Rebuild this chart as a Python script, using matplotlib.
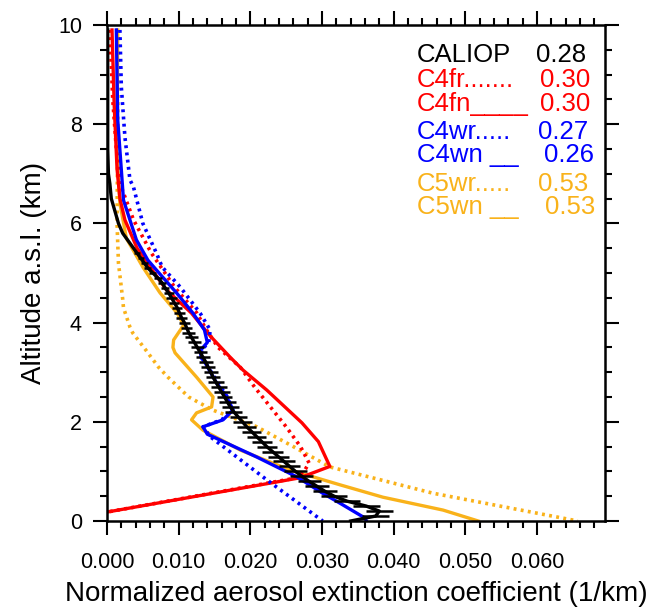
import matplotlib
matplotlib.use("Agg")
import matplotlib.pyplot as plt
from matplotlib.ticker import MultipleLocator, FormatStrFormatter

plt.rcParams['font.family'] = ['Liberation Sans', 'DejaVu Sans']

# CALIOP mean profile (altitude km, extinction 1/km) and its spread
caliop_alt = [0.0, 0.1, 0.2, 0.3, 0.4, 0.5, 0.6, 0.7, 0.8, 0.9,
              1.0, 1.1, 1.2, 1.3, 1.4, 1.5, 1.6, 1.7, 1.8, 1.9,
              2.0, 2.1, 2.2, 2.3, 2.4, 2.5, 2.6, 2.7, 2.8, 2.9,
              3.0, 3.1, 3.2, 3.3, 3.4, 3.5, 3.6, 3.7, 3.8, 3.9,
              4.0, 4.1, 4.2, 4.3, 4.4, 4.5, 4.6, 4.7, 4.8, 4.9,
              5.0, 5.1, 5.2, 5.3, 5.4,
              5.6, 5.8, 6.0, 6.2, 6.5, 6.8, 7.0, 7.5, 8.5, 9.9]
caliop_ext = [0.0340, 0.0375, 0.0380, 0.0362, 0.0335, 0.0317, 0.0304, 0.0293, 0.0282, 0.0272,
              0.0263, 0.0255, 0.0247, 0.0239, 0.0231, 0.0223, 0.0216, 0.0209, 0.0202, 0.0195,
              0.0189, 0.0183, 0.0177, 0.0172, 0.0168, 0.0164, 0.0160, 0.0156, 0.0152, 0.0148,
              0.0145, 0.0141, 0.0138, 0.0134, 0.0130, 0.0126, 0.0122, 0.0118, 0.0114, 0.0111,
              0.0108, 0.0104, 0.0101, 0.0098, 0.0094, 0.0090, 0.0086, 0.0081, 0.0077, 0.0071,
              0.0064, 0.0057, 0.0052, 0.0047, 0.0042,
              0.0032, 0.0022, 0.0016, 0.0012, 0.0006, 0.0004, 0.0002, 0.0001, 0.0001, 0.0001]
caliop_err = [0.0, 0.0019, 0.0019, 0.0019, 0.0018, 0.0018, 0.0017, 0.0017, 0.0016, 0.0016,
              0.0016, 0.0015, 0.0015, 0.0015, 0.0014, 0.0014, 0.0014, 0.0013, 0.0013, 0.0013,
              0.0013, 0.0012, 0.0012, 0.0012, 0.0012, 0.0011, 0.0011, 0.0011, 0.0011, 0.0010,
              0.0010, 0.0010, 0.0010, 0.0010, 0.0009, 0.0009, 0.0009, 0.0009, 0.0009, 0.0008,
              0.0008, 0.0008, 0.0008, 0.0007, 0.0007, 0.0007, 0.0007, 0.0006, 0.0006, 0.0006,
              0.0005, 0.0005, 0.0005, 0.0004, 0.0004]

c4fn_alt = [9.9, 8.4, 7.1, 6.5, 6.07, 5.5, 5.0, 4.66, 4.19, 3.8, 3.7, 3.3, 3.04,
            2.64, 1.98, 1.6, 1.1, 0.87, 0.18]
c4fn_ext = [0.0007, 0.0010, 0.0014, 0.0018, 0.0025, 0.0042, 0.0066, 0.0083, 0.0118, 0.0140,
            0.0146, 0.0172, 0.0190, 0.0223, 0.0272, 0.0295, 0.0311, 0.0269, 0.0]

c4fr_alt = [9.9, 8.5, 7.5, 6.73, 6.07, 5.4, 4.7, 4.2, 3.85, 3.5, 3.1, 2.7, 1.9, 1.5,
            1.17, 1.0, 0.87, 0.18]
c4fr_ext = [0.0004, 0.0008, 0.0013, 0.0020, 0.0037, 0.0062, 0.0095, 0.0125, 0.0139, 0.0155,
            0.0186, 0.0206, 0.0250, 0.0270, 0.0282, 0.0275, 0.0265, 0.0]

c4wn_alt = [9.9, 8.08, 7.08, 6.47, 6.07, 5.67, 5.26, 5.06, 4.6, 4.19, 3.85, 3.6, 3.45,
            3.3, 3.19, 2.78, 2.5, 2.24, 2.04, 1.9, 1.75, 1.29, 0.89, 0.56, 0.36, 0.06, 0.0]
c4wn_ext = [0.0013, 0.0015, 0.0020, 0.0023, 0.0032, 0.0041, 0.0057, 0.0069, 0.0097, 0.0120,
            0.0136, 0.0140, 0.0131, 0.0131, 0.0137, 0.0153, 0.0167, 0.0176, 0.0162, 0.0134,
            0.0140, 0.0209, 0.0265, 0.0301, 0.0325, 0.0360, 0.0362]

c4wr_alt = [9.9, 8.75, 7.74, 6.88, 6.73, 6.0, 5.4, 5.12, 4.72, 4.19, 3.85, 3.6, 3.45,
            3.3, 2.78, 2.5, 2.24, 2.04, 1.9, 1.7, 0.83, 0.0]
c4wr_ext = [0.0018, 0.0020, 0.0025, 0.0032, 0.0037, 0.0050, 0.0069, 0.0077, 0.0102, 0.0130,
            0.0144, 0.0142, 0.0132, 0.0133, 0.0155, 0.0168, 0.0175, 0.0160, 0.0134, 0.0144,
            0.0223, 0.0301]

c5wn_alt = [9.9, 7.42, 6.41, 5.7, 5.12, 4.6, 4.19, 3.95, 3.65, 3.5, 3.39, 2.9, 2.5, 2.3,
            2.18, 2.04, 1.83, 1.43, 1.03, 0.73, 0.48, 0.22, 0.0]
c5wn_ext = [0.0015, 0.0014, 0.0018, 0.0027, 0.0050, 0.0074, 0.0098, 0.0107, 0.0093, 0.0092,
            0.0095, 0.0125, 0.0148, 0.0146, 0.0125, 0.0118, 0.0134, 0.0186, 0.0255, 0.0325,
            0.0385, 0.0469, 0.0518]

c5wr_alt = [9.9, 6.0, 5.2, 4.46, 4.3, 3.91, 3.79, 3.45, 3.1, 2.9, 2.5, 2.24, 1.9, 1.5,
            1.09, 0.56, 0.0]
c5wr_ext = [0.0016, 0.0014, 0.0016, 0.0022, 0.0023, 0.0032, 0.0036, 0.0054, 0.0072, 0.0085,
            0.0114, 0.0147, 0.0209, 0.0260, 0.0311, 0.0455, 0.0657]

legend_names = ['CALIOP', 'C4fr.......', 'C4fn____', 'C4wr.....', 'C4wn __', 'C5wr.....', 'C5wn __']
legend_vals = ['0.28', '0.30', '0.30', '0.27', '0.26', '0.53', '0.53']
legend_colors = ['black', 'red', 'red', 'blue', 'blue', '#f9b21a', '#f9b21a']

RED = 'red'
BLUE = 'blue'
ORANGE = '#f9b21a'
dots = (0, (0.8, 1.2))

fig = plt.figure(figsize=(6.54, 6.08), dpi=100)
ax = fig.add_axes([107 / 654, 87 / 608, 498 / 654, 496 / 608])

ax.plot(c5wr_ext, c5wr_alt, color=ORANGE, lw=2.6, ls=dots)
ax.plot(c5wn_ext, c5wn_alt, color=ORANGE, lw=2.4)
ax.plot(c4fr_ext, c4fr_alt, color=RED, lw=2.6, ls=dots)
ax.plot(c4fn_ext, c4fn_alt, color=RED, lw=2.4)
ax.plot(c4wr_ext, c4wr_alt, color=BLUE, lw=2.6, ls=dots)
ax.plot(c4wn_ext, c4wn_alt, color=BLUE, lw=2.4)

n = len(caliop_err)
ax.errorbar(caliop_ext[:n], caliop_alt[:n], xerr=caliop_err, fmt='none',
            ecolor='black', elinewidth=1.8, capsize=0)
ax.plot(caliop_ext, caliop_alt, color='black', lw=2.4)

ax.set_xlim(0, 0.0695)
ax.set_ylim(0, 10)
ax.xaxis.set_major_locator(MultipleLocator(0.01))
ax.xaxis.set_minor_locator(MultipleLocator(0.002))
ax.yaxis.set_major_locator(MultipleLocator(2))
ax.yaxis.set_minor_locator(MultipleLocator(0.5))
ax.xaxis.set_major_formatter(FormatStrFormatter('%.3f'))
ax.tick_params(which='both', direction='out', top=True, right=True, width=1.5)
ax.tick_params(which='major', length=10, labelsize=15.5)
ax.tick_params(axis='x', which='major', pad=12)
ax.tick_params(axis='y', which='major', pad=8)
ax.tick_params(which='minor', length=5)
for s in ax.spines.values():
    s.set_linewidth(1.8)

ax.set_xlabel('Normalized aerosol extinction coefficient (1/km)', fontsize=20, labelpad=6)
ax.set_ylabel('Altitude a.s.l. (km)', fontsize=20, labelpad=8)

# legend text in pixel rows of the original figure
rows_px = [62, 87, 111, 139, 162, 191, 214]
val_px = [536, 540, 540, 538, 544, 538, 545]
for name, val, col, ry, vx in zip(legend_names, legend_vals, legend_colors, rows_px, val_px):
    ax.text(417 / 654, 1 - ry / 608, name, color=col, fontsize=18.5,
            transform=fig.transFigure, va='baseline', ha='left')
    ax.text(vx / 654, 1 - ry / 608, val, color=col, fontsize=18.5,
            transform=fig.transFigure, va='baseline', ha='left')

fig.savefig('out.png', dpi=100)
